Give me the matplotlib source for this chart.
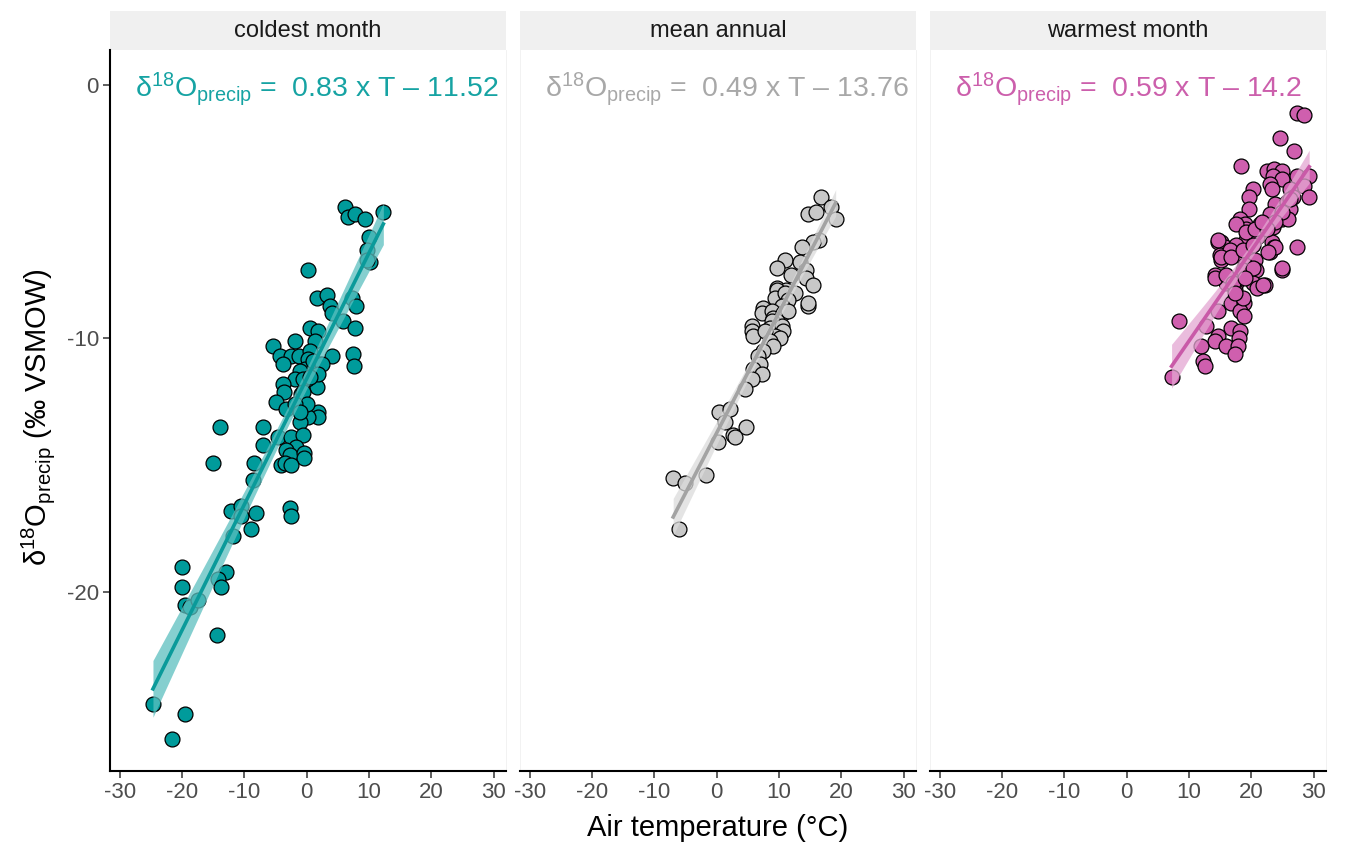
import numpy as np
import matplotlib
matplotlib.use("Agg")
import matplotlib.pyplot as plt
from matplotlib.patches import Rectangle

plt.rcParams['font.family'] = ['Liberation Sans', 'DejaVu Sans']
plt.rcParams['mathtext.fontset'] = 'custom'
plt.rcParams['mathtext.rm'] = 'Liberation Sans'
plt.rcParams['mathtext.it'] = 'Liberation Sans:italic'
plt.rcParams['mathtext.default'] = 'regular'
plt.rcParams['axes.unicode_minus'] = False

# coldest month: air temperature (C), d18O (permil)
cold_t = [6.2, 6.6, 7.7, 9.4, 12.3, 10.0, 9.6, 10.2, 9.6, 0.2,
          1.6, 3.2, 3.7, 4.1, 7.2, 7.9, 5.8, 7.7, 0.6, 1.8,
          -1.9, 1.3, -5.4, -4.3, -2.6, -1.2, -3.8, 2.1, 4.0, 7.4,
          7.6, 0.5, 0.2, -0.3, -1.1, -1.9, -3.8, -3.7, 1.0, 1.6,
          0.0, -4.9, -3.3, -0.9, -0.6, 1.8, 1.8, 0.2, -1.1, -14.0,
          -7.1, -4.6, -2.5, -0.6, -7.0, -1.7, -3.3, -2.7, -0.5, -0.5,
          -4.1, -3.5, -2.5, -15.0, -8.5, -8.7, -12.1, -10.5, -10.5, -8.2,
          -9.0, -11.8, -2.7, -2.5, -20.1, -20.1, -12.9, -14.3, -13.7, -19.6,
          -18.8, -17.5, -14.4, -24.7, -19.5, -21.6,
          1.0, 2.4, 1.8, -0.6, 0.5, -0.6, 0.0, -1.9, -1.1]
cold_d = [-4.8, -5.2, -5.1, -5.3, -5.0, -6.0, -6.5, -7.0, -6.9, -7.3,
          -8.4, -8.3, -8.7, -9.0, -8.4, -8.7, -9.3, -9.6, -9.6, -9.7,
          -10.1, -10.1, -10.3, -10.7, -10.7, -10.7, -11.0, -11.0, -10.7, -10.6,
          -11.1, -10.5, -10.8, -11.2, -11.3, -11.6, -11.8, -12.1, -11.8, -11.9,
          -11.6, -12.5, -12.8, -12.2, -12.6, -12.9, -13.1, -13.1, -13.3, -13.5,
          -13.5, -13.9, -13.9, -13.8, -14.2, -14.3, -14.4, -14.6, -14.5, -14.7,
          -15.0, -14.9, -15.0, -14.9, -14.9, -15.6, -16.8, -16.6, -17.0, -16.9,
          -17.5, -17.8, -16.7, -17.0, -19.0, -19.8, -19.2, -19.5, -19.8, -20.5,
          -20.6, -20.3, -21.7, -24.4, -24.8, -25.8,
          -10.9, -11.0, -11.4, -11.6, -11.5, -12.1, -12.6, -12.6, -12.9]

# mean annual
annual_t = [16.8, 14.7, 15.9, 18.4, 19.1, 16.4, 15.5, 13.7, 10.9, 9.7,
            13.3, 14.3, 14.4, 12.0, 15.5, 14.7, 9.6, 11.2,
            9.6, 9.3, 10.9, 12.5, 11.5, 10.4, 14.7, 7.4, 7.2, 8.8,
            9.1, 10.7, 11.5, 9.6, 8.8, 5.6, 5.6, 5.8, 8.5, 10.4,
            10.7, 9.3, 10.1, 7.7, 8.5, 9.1, 7.4, 6.6, 6.9, 5.8,
            7.2, 5.6, 4.5,
            0.3, 2.1, 1.3, 4.7, 0.2, 2.6, 2.9, -7.0, -5.1, -1.7, -6.1]
annual_d = [-4.4, -5.1, -5.0, -4.8, -5.3, -6.1, -6.2, -6.4, -6.9, -7.2,
            -7.0, -7.3, -7.6, -7.5, -7.9, -8.7, -8.0, -8.1,
            -8.1, -8.4, -8.2, -8.2, -8.5, -8.7, -8.6, -8.8, -9.0, -8.9,
            -9.2, -9.0, -8.9, -9.3, -9.3, -9.5, -9.7, -9.9, -9.6, -9.5,
            -9.7, -9.9, -10.0, -9.7, -10.1, -10.3, -10.5, -10.7, -11.0, -11.2,
            -11.4, -11.6, -12.0,
            -12.9, -12.8, -13.3, -13.5, -14.1, -13.8, -13.9, -15.5, -15.7, -15.4, -17.5]

# warmest month
warm_t = [27.3, 28.5, 24.6, 26.9, 18.4,
          22.5, 23.6, 25.0, 23.5, 24.9, 23.0, 23.4,
          27.3, 29.3, 28.5, 29.3, 26.2, 26.7,
          20.3, 19.7, 19.7,
          23.8, 25.7, 26.2, 23.0, 24.9, 25.9,
          18.2, 19.0, 19.2, 21.4, 21.9, 23.5,
          15.2, 14.7, 15.8, 17.9, 19.2,
          20.9, 23.3, 23.6, 23.0, 27.4,
          15.0, 15.1, 18.7, 19.8, 20.6, 20.7, 24.9,
          14.1, 15.8, 16.0, 17.6, 20.3, 20.9, 22.2,
          17.4, 17.4, 14.7, 16.8, 18.9, 18.2, 18.9,
          8.4, 12.8, 16.8, 18.2, 14.7, 14.1,
          16.0, 18.1, 17.9, 17.4, 11.9, 12.3, 12.5, 7.2,
          26.2, 24.9, 23.8, 17.6, 19.2, 20.6, 22.5, 21.7, 14.7, 17.6,
          16.6, 15.2, 16.8, 18.7, 20.3, 23.8, 22.7, 19.0, 18.7, 20.3,
          24.9, 14.1, 16.0, 17.1, 19.0, 21.9, 18.7, 17.4]
warm_d = [-1.1, -1.2, -2.1, -2.6, -3.2,
          -3.4, -3.3, -3.4, -3.6, -3.7, -3.9, -4.1,
          -3.6, -3.6, -4.0, -4.4, -4.1, -4.4,
          -4.1, -4.4, -4.9,
          -4.7, -4.6, -4.9, -5.1, -5.3, -5.3,
          -5.3, -5.5, -5.7, -5.5, -5.7, -5.6,
          -6.2, -6.2, -6.4, -6.4, -6.1,
          -6.0, -6.2, -6.4, -6.6, -6.4,
          -6.7, -6.9, -6.8, -7.0, -6.9, -7.3, -7.3,
          -7.5, -7.6, -7.8, -7.8, -7.8, -8.0, -7.9,
          -8.1, -8.4, -8.9, -8.6, -8.6, -8.9, -9.1,
          -9.3, -9.5, -9.6, -9.7, -9.9, -10.1,
          -10.3, -10.0, -10.3, -10.6, -10.3, -10.9, -11.1, -11.5,
          -4.5, -5.0, -5.4, -5.5, -5.8, -5.7, -5.7, -5.4, -6.1, -6.3,
          -6.5, -6.8, -6.8, -6.5, -6.3, -6.4, -6.6, -7.1, -7.3, -7.2,
          -7.2, -7.6, -7.5, -7.8, -7.6, -7.9, -8.4, -8.2]

panels = ['coldest month', 'mean annual', 'warmest month']
equations = ['0.83 x T \u2013 11.52', '0.49 x T \u2013 13.76', '0.59 x T \u2013 14.2']
fills = ['#009B9B', '#C8C8C8', '#CF5FAE']
lines = ['#0A9A9A', '#A3A3A3', '#C95AA8']
bands = ['#5CC0C0', '#DCDCDC', '#E4A6D2']
texts = ['#16A3A3', '#A8A8A8', '#CC5FAC']


def fit_band(x, y):
    n = len(x)
    b, a = np.polyfit(x, y, 1)
    xs = np.linspace(x.min(), x.max(), 100)
    yhat = a + b * xs
    resid = y - (a + b * x)
    s = np.sqrt(np.sum(resid ** 2) / (n - 2))
    se = s * np.sqrt(1.0 / n + (xs - x.mean()) ** 2 / np.sum((x - x.mean()) ** 2))
    return xs, yhat, 1.98 * se


fig = plt.figure(figsize=(13.46, 8.46), dpi=100)
lefts = [110 / 1346, 520 / 1346, 930 / 1346]
data = [(cold_t, cold_d), (annual_t, annual_d), (warm_t, warm_d)]

for i in range(3):
    ax = fig.add_axes([lefts[i], 0.0887, 396 / 1346, 0.8522])
    x = np.array(data[i][0])
    y = np.array(data[i][1])
    ax.scatter(x, y, s=115, c=fills[i], edgecolors='black', linewidths=0.9, zorder=2)
    xs, yhat, ci = fit_band(x, y)
    ax.fill_between(xs, yhat - ci, yhat + ci, color=bands[i], alpha=0.75, lw=0, zorder=3)
    ax.plot(xs, yhat, color=lines[i], lw=2.6, zorder=4)

    ax.set_xlim(-31.6, 32.0)
    ax.set_ylim(-27.06, 1.38)
    ax.set_xticks([-30, -20, -10, 0, 10, 20, 30])
    ax.tick_params(axis='x', labelsize=16, labelcolor='#4D4D4D', color='#333333', length=5, width=1.1, pad=3)
    ax.spines['bottom'].set_linewidth(1.5)
    ax.spines['top'].set_visible(False)
    ax.spines['right'].set_color('#F0F0F0')
    ax.spines['right'].set_linewidth(0.6)
    if i == 0:
        ax.set_yticks([0, -10, -20])
        ax.tick_params(axis='y', labelsize=16, labelcolor='#4D4D4D', color='#333333', length=5, width=1.1, pad=3)
        ax.spines['left'].set_linewidth(1.5)
    else:
        ax.set_yticks([])
        ax.spines['left'].set_color('#F0F0F0')
        ax.spines['left'].set_linewidth(0.6)

    # facet strip
    ax.add_patch(Rectangle((0, 1.0), 1, 0.0541, transform=ax.transAxes, facecolor='#F0F0F0',
                           edgecolor='none', clip_on=False))
    ax.text(0.5, 1.027, panels[i], transform=ax.transAxes, ha='center', va='center',
            fontsize=17, color='#1A1A1A')

    ax.text(0.063, 0.945, r'$\delta^{18}$O$_{precip}$ =  ' + equations[i], transform=ax.transAxes,
            ha='left', va='center', fontsize=20.5, color=texts[i])

fig.text(0.5334, 0.021, 'Air temperature (\u00b0C)', ha='center', va='center', fontsize=21)
fig.text(0.028, 0.507, r'$\delta^{18}$O$_{precip}$ (' + '\u2030 VSMOW)', rotation=90,
         ha='center', va='center', fontsize=21)

fig.savefig('out.png', dpi=100)
